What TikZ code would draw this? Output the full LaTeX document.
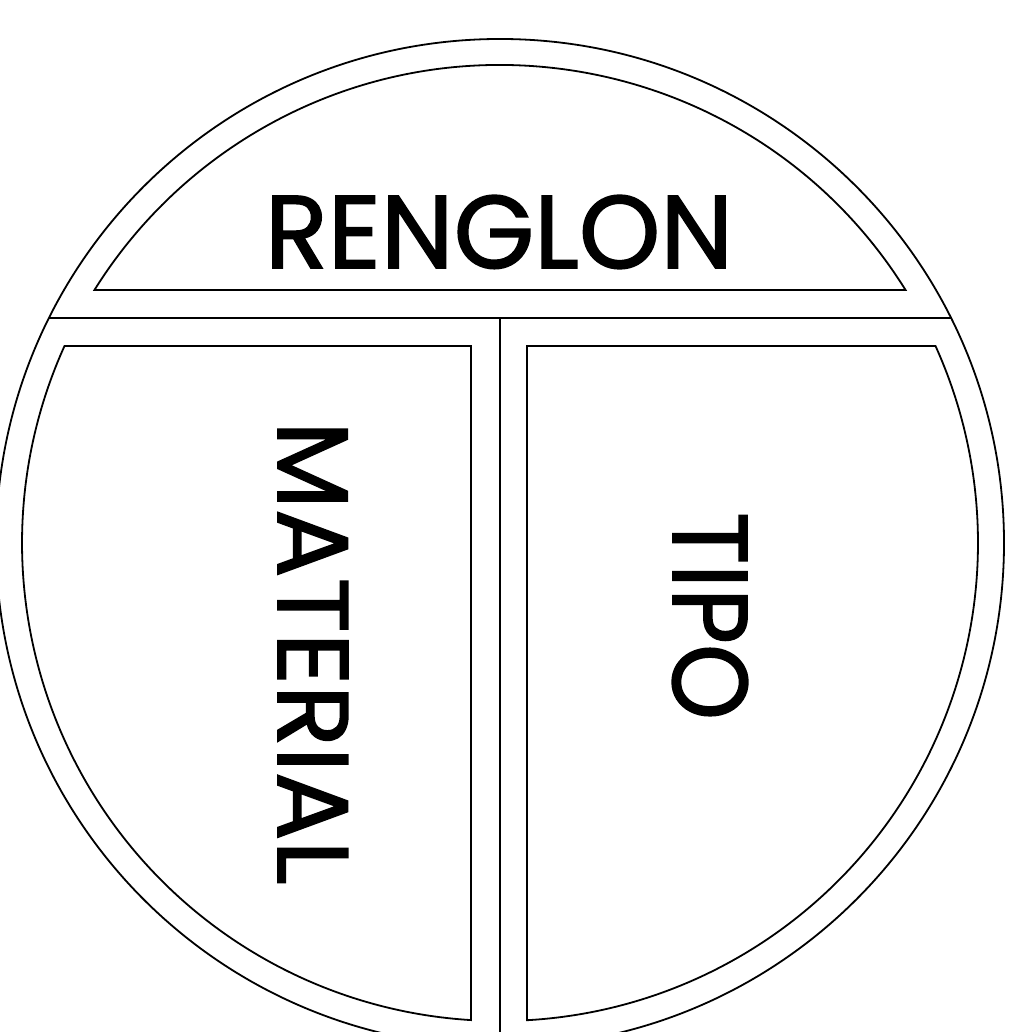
\documentclass[tikz,border=0pt]{standalone}
\usepackage{fontspec}
\setmainfont{Poppins}
\newfontfamily\lblfont{Poppins}[FakeBold=1.5]
\usetikzlibrary{calc}
\tikzset{
  ln/.style={line width=1.8pt, black},
  lbl/.style={inner sep=0pt, outer sep=0pt, text=black, font=\lblfont}
}
\begin{document}
\begin{tikzpicture}[x=1pt,y=1pt]
\useasboundingbox (0,0) rectangle (1030,1032);
\fill[white] (0,0) rectangle (1030,1032);
\clip (0,0) rectangle (1030,1032);
% centre and radii
\coordinate (C) at (500,489);
\pgfmathsetmacro{\R}{504}
\pgfmathsetmacro{\r}{478}
% outer circle
\draw[ln] (C) circle[radius=\R];
% top segment (RENGLON)
\pgfmathsetmacro{\aT}{asin(253/\r)}
\coordinate (tl) at ($(C)+(180-\aT:\r)$);
\coordinate (tr) at ($(C)+(\aT:\r)$);
\draw[ln] (tl) -- (tr) arc[start angle=\aT, end angle=180-\aT, radius=\r] -- cycle;
% dividers
\pgfmathsetmacro{\aD}{asin(225/\R)}
\coordinate (dl) at ($(C)+(180-\aD:\R)$);
\coordinate (dr) at ($(C)+(\aD:\R)$);
\coordinate (dm) at (500,714);
\coordinate (db) at ($(C)+(270:\R)$);
\draw[ln] (dl) -- (dr);
\draw[ln] (dm) -- (db);
% left panel
\pgfmathsetmacro{\aP}{asin(197/\r)}
\pgfmathsetmacro{\aL}{180+acos(29/\r)}
\coordinate (lt) at (471,686);
\coordinate (ltl) at ($(C)+(180-\aP:\r)$);
\draw[ln] (lt) -- (ltl) arc[start angle=180-\aP, end angle=\aL, radius=\r] -- cycle;
% right panel
\pgfmathsetmacro{\aR}{-acos(27/\r)}
\coordinate (rt) at (527,686);
\coordinate (rb) at ($(C)+(\aR:\r)$);
\draw[ln] (rt) -- (rb) arc[start angle=\aR, end angle=\aP, radius=\r] -- cycle;
% labels
\node[lbl] (renglon) at (499,800) {\resizebox{468pt}{73pt}{RENGLON}};
\node[lbl, rotate=-90] (material) at (313,379) {\resizebox{463pt}{70pt}{MATERIAL}};
\node[lbl, rotate=-90] (tipo) at (710,416) {\resizebox{208pt}{75pt}{TIPO}};
\end{tikzpicture}
\end{document}
